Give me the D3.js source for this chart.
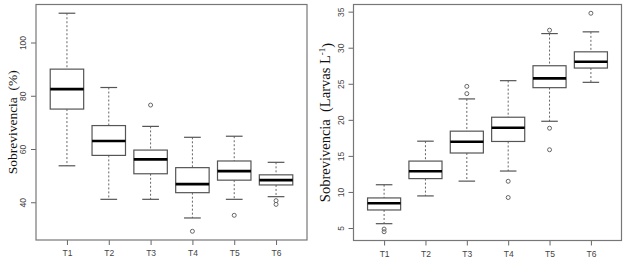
<!DOCTYPE html>
<html>
<head>
<meta charset="utf-8">
<script src="https://cdn.jsdelivr.net/npm/d3@7"></script>
<style>
  body { margin: 0; background: #fff; }
  svg { display: block; }
</style>
</head>
<body>
<svg id="chart" width="627" height="262"></svg>
<script>
var categories = ["T1", "T2", "T3", "T4", "T5", "T6"];

// left panel: Sobrevivencia (%)
var pctLow = [53.7, 41.1, 41.1, 34.1, 41.1, 42.1];
var pctQ1 = [75, 57.6, 50.7, 43.6, 48.3, 46.5];
var pctMed = [82.5, 63, 56.1, 46.8, 51.7, 48.3];
var pctQ3 = [90, 68.8, 59.6, 53, 55.5, 50.3];
var pctHigh = [111, 83.1, 68.5, 64.4, 64.8, 55];
var pctOut = [[], [], [76.5], [29.1], [35.1], [40.6, 39.2]];
var pctTicks = [40, 60, 80, 100];

// right panel: Sobrevivencia (Larvas L-1)
var larLow = [5.6, 9.45, 11.5, 12.9, 19.8, 25.2];
var larQ1 = [7.5, 11.85, 15.4, 17.0, 24.46, 27.18];
var larMed = [8.44, 12.86, 16.96, 18.9, 25.75, 28.05];
var larQ3 = [9.17, 14.28, 18.43, 20.36, 27.5, 29.43];
var larHigh = [11.0, 17.04, 22.9, 25.43, 31.96, 32.2];
var larOut = [[4.85, 4.48], [], [24.64, 23.63], [11.48, 9.23], [32.43, 18.84, 15.85], [34.78]];
var larTicks = [5, 10, 15, 20, 25, 30, 35];

var svg = d3.select("#chart")

function panel(opt){
    var g = svg.append("g").attr("transform", "translate(" + opt.left + "," + opt.top + ")")
    var w = opt.width, h = opt.height

    var rows = categories.map(function(c, i){
        return {cat: c, i: i + 1, low: opt.low[i], q1: opt.q1[i], med: opt.med[i],
                q3: opt.q3[i], high: opt.high[i], out: opt.out[i]}
    })

    // R style: 4% padding round the data range
    var all = [].concat(opt.low, opt.high, [].concat.apply([], opt.out))
    var lo = d3.min(all), hi = d3.max(all), pad = (hi - lo) * 0.04
    var y = d3.scaleLinear().domain([lo - pad, hi + pad]).range([h, 0])
    var x = d3.scaleLinear().domain([0.26, 6.74]).range([0, w])
    var bw = x(1.8) - x(1)   // box width 0.8

    var yAxis = g.append("g")
        .call(d3.axisLeft(y).tickValues(opt.ticks).tickSize(5).tickFormat(d3.format("d")))
    yAxis.select(".domain").remove()
    yAxis.selectAll("line").attr("stroke", "#666")
    yAxis.selectAll("text")
        .attr("x", 0).attr("dy", 0)
        .attr("text-anchor", "middle")
        .attr("transform", "translate(-10,0) rotate(-90)")
        .attr("fill", "#444")
        .style("font-family", "Liberation Sans, Arial, sans-serif")
        .style("font-size", "8.5px")

    var xAxis = g.append("g").attr("transform", "translate(0," + h + ")")
        .call(d3.axisBottom(x).tickValues(d3.range(1, 7)).tickSize(5)
            .tickFormat(function(d){ return categories[d - 1] }))
    xAxis.select(".domain").remove()
    xAxis.selectAll("line").attr("stroke", "#666")
    xAxis.selectAll("text")
        .attr("y", 10).attr("dy", "0.71em")
        .attr("fill", "#444")
        .style("font-family", "Liberation Sans, Arial, sans-serif")
        .style("font-size", "8.5px")

    var box = g.selectAll(".box").data(rows).join("g").attr("class", "box")

    box.append("line")
        .attr("x1", d => x(d.i)).attr("x2", d => x(d.i))
        .attr("y1", d => y(d.high)).attr("y2", d => y(d.q3))
        .attr("stroke", "#666").attr("stroke-dasharray", "2,2")
    box.append("line")
        .attr("x1", d => x(d.i)).attr("x2", d => x(d.i))
        .attr("y1", d => y(d.q1)).attr("y2", d => y(d.low))
        .attr("stroke", "#666").attr("stroke-dasharray", "2,2")

    // whisker caps
    box.selectAll(".cap").data(d => [[d.i, d.high], [d.i, d.low]]).join("line")
        .attr("class", "cap")
        .attr("x1", d => x(d[0]) - bw / 4).attr("x2", d => x(d[0]) + bw / 4)
        .attr("y1", d => y(d[1])).attr("y2", d => y(d[1]))
        .attr("stroke", "#555").attr("stroke-width", 1.2)

    box.append("rect")
        .attr("x", d => x(d.i) - bw / 2).attr("width", bw)
        .attr("y", d => y(d.q3)).attr("height", d => y(d.q1) - y(d.q3))
        .attr("fill", "#fff").attr("stroke", "#555").attr("stroke-width", 1.2)

    box.append("line")
        .attr("x1", d => x(d.i) - bw / 2).attr("x2", d => x(d.i) + bw / 2)
        .attr("y1", d => y(d.med)).attr("y2", d => y(d.med))
        .attr("stroke", "#000").attr("stroke-width", 2.6)

    box.selectAll("circle").data(d => d.out.map(v => [d.i, v])).join("circle")
        .attr("cx", d => x(d[0])).attr("cy", d => y(d[1]))
        .attr("r", 2).attr("fill", "none").attr("stroke", "#666")

    // frame
    g.append("rect").attr("width", w).attr("height", h)
        .attr("fill", "none").attr("stroke", "#777").attr("stroke-width", 1.2)

    var lab = g.append("text")
        .attr("transform", "translate(" + opt.labelX + "," + (h / 2) + ") rotate(-90)")
        .attr("text-anchor", "middle")
        .attr("fill", "#111")
        .style("font-family", "Liberation Serif, Times New Roman, serif")
        .style("font-size", opt.labelSize)
        .style("white-space", "pre")
    lab.append("tspan").text(opt.label)
    if (opt.sup) {
        lab.append("tspan").attr("dy", "-0.45em").style("font-size", "9px").text(opt.sup)
        lab.append("tspan").attr("dy", "0.45em").text(")")
    }
}

panel({left: 36, top: 4.5, width: 271, height: 235.5, low: pctLow, q1: pctQ1, med: pctMed,
       q3: pctQ3, high: pctHigh, out: pctOut, ticks: pctTicks,
       label: "Sobrevivencia  (%)", labelX: -19, labelSize: "13.5px"})

panel({left: 353.5, top: 4.5, width: 268, height: 236, low: larLow, q1: larQ1, med: larMed,
       q3: larQ3, high: larHigh, out: larOut, ticks: larTicks,
       label: "Sobrevivencia  (Larvas L", sup: "-1", labelX: -24, labelSize: "14.5px"})
</script>
</body>
</html>
